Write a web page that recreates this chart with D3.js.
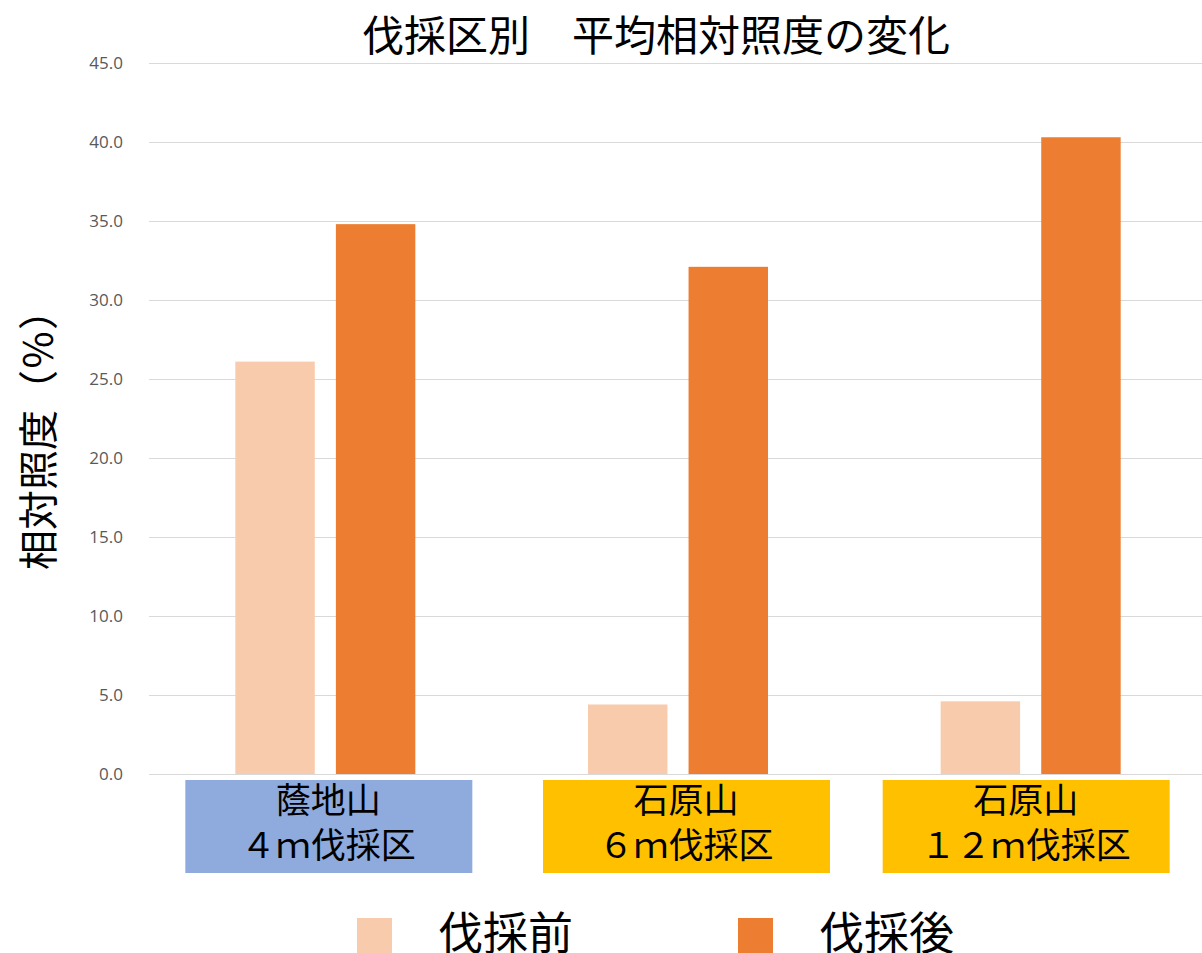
<!DOCTYPE html>
<html><head><meta charset="utf-8">
<script src="https://cdn.jsdelivr.net/npm/d3@7"></script>
<style>body{margin:0;background:#fff}svg{display:block}</style>
</head><body>
<script>
const categories = ["蔭地山\n４ｍ伐採区", "石原山\n６ｍ伐採区", "石原山\n１２ｍ伐採区"];
const categoryColors = ["#8FAADC", "#FFC000", "#FFC000"];
const seriesNames = ["伐採前", "伐採後"];
const seriesColors = ["#F8CBAD", "#ED7D31"];
const beforeValues = [26.1, 4.4, 4.6];
const afterValues = [34.8, 32.1, 40.3];
const yTicks = [0, 5, 10, 15, 20, 25, 30, 35, 40, 45];
const title = "伐採区別　平均相対照度の変化";
const yLabel = "相対照度（％）";

const W = 1202, H = 953;
const jp = "'Noto Sans CJK JP','Noto Sans',sans-serif";
const svg = d3.select("body").append("svg").attr("width", W).attr("height", H);

const x = d3.scaleBand().domain(d3.range(categories.length)).range([149, 1207]).padding(0);
const y = d3.scaleLinear().domain([0, 45]).range([774, 63]);
const xs = d3.scaleBand().domain([0, 1]).range([0, 180]).paddingInner(21/100);
const boxShift = [3, 8, -5];

// grid
const grid = svg.append("g").attr("transform", "translate(149,0)")
  .call(d3.axisLeft(y).tickValues(yTicks).tickSize(-1060).tickFormat(d3.format(".1f")));
grid.select(".domain").remove();
grid.selectAll(".tick line").attr("stroke", "#d9d9d9").attr("stroke-width", 1);
grid.selectAll(".tick text").attr("x", -26).attr("fill", "#595959")
  .style("font-family", "'Open Sans','Noto Sans',sans-serif").style("font-size", "17px");

// bars
const series = [beforeValues, afterValues];
series.forEach((vals, si) => {
  svg.append("g").selectAll("rect").data(vals).join("rect")
    .attr("x", (d, i) => x(i) + x.bandwidth()/2 - 90 + xs(si))
    .attr("width", xs.bandwidth())
    .attr("y", d => y(d))
    .attr("height", d => y(0) - y(d))
    .attr("fill", seriesColors[si]);
});

// category boxes
const cat = svg.append("g").selectAll("g").data(categories).join("g")
  .attr("transform", (d, i) => `translate(${x(i) + x.bandwidth()/2 + boxShift[i]},0)`);
cat.append("rect").attr("x", -143).attr("y", 780).attr("width", 287).attr("height", 93)
  .attr("fill", (d, i) => categoryColors[i]);
cat.each(function(d) {
  const lines = d.split("\n");
  const t = d3.select(this).append("text").attr("text-anchor", "middle")
    .style("font-family", jp).style("font-size", "35px").attr("fill", "#000");
  lines.forEach((l, k) => t.append("tspan").attr("x", 0).attr("y", 813 + k * 45).text(l));
});

// title
svg.append("text").attr("x", 656).attr("y", 51).attr("text-anchor", "middle")
  .style("font-family", jp).style("font-size", "42px").attr("fill", "#000").text(title);

// y label
svg.append("text").attr("transform", "translate(53,430) rotate(-90)").attr("text-anchor", "middle")
  .style("font-family", jp).style("font-size", "40px").attr("fill", "#000").text(yLabel);

// legend
const legX = [357, 738];
const leg = svg.append("g").selectAll("g").data(seriesNames).join("g")
  .attr("transform", (d, i) => `translate(${legX[i]},0)`);
leg.append("rect").attr("x", 0).attr("y", 918).attr("width", 35).attr("height", 35)
  .attr("fill", (d, i) => seriesColors[i]);
leg.append("text").attr("x", 81).attr("y", 950)
  .style("font-family", jp).style("font-size", "45px").attr("fill", "#000").text(d => d);
</script>
</body></html>
